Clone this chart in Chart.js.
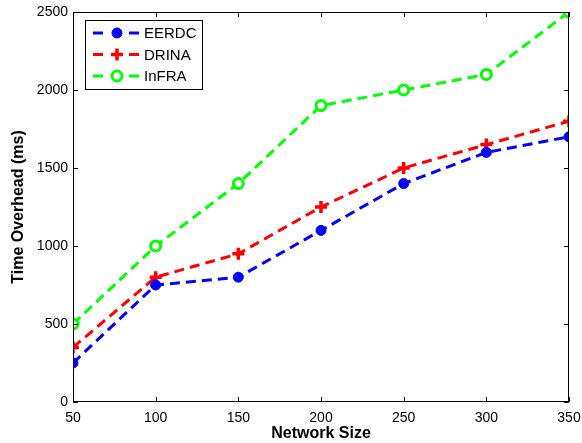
<!DOCTYPE html>
<html>
<head>
<meta charset="utf-8">
<script src="https://cdn.jsdelivr.net/npm/chart.js@4/dist/chart.umd.min.js"></script>
<style>
  html, body { margin: 0; padding: 0; background: #fff; }
  #wrap { width: 582px; height: 443px; position: relative; }
</style>
</head>
<body>
<div id="wrap"><canvas id="myChart"></canvas></div>
<script>
const networkSizes = [50, 100, 150, 200, 250, 300, 350];

const eerdc = [250, 750, 800, 1100, 1400, 1600, 1700];
const drina = [350, 800, 950, 1250, 1500, 1650, 1800];
const infra = [500, 1000, 1400, 1900, 2000, 2100, 2500];

const xTicks = [50, 100, 150, 200, 250, 300, 350];
const yTicks = [0, 500, 1000, 1500, 2000, 2500];

const FONT = 'Liberation Sans, Arial, Helvetica, sans-serif';

function points(values) {
  return networkSizes.map((x, i) => ({ x: x, y: values[i] }));
}

const data = {
  datasets: [{
      label: 'EERDC',
      data: points(eerdc),
      borderColor: '#0000ff',
      backgroundColor: '#0000ff',
      borderWidth: 3,
      borderDash: [10, 6],
      pointStyle: 'circle',
      pointRadius: 5,
      pointBorderWidth: 1,
      pointBackgroundColor: '#0000ff',
    },
    {
      label: 'DRINA',
      data: points(drina),
      borderColor: '#ff0000',
      backgroundColor: '#ff0000',
      borderWidth: 3,
      borderDash: [10, 6],
      pointStyle: 'cross',
      pointRadius: 6,
      pointBorderWidth: 3.5,
    },
    {
      label: 'InFRA',
      data: points(infra),
      borderColor: '#00ff00',
      backgroundColor: '#ffffff',
      borderWidth: 3,
      borderDash: [10, 6],
      pointStyle: 'circle',
      pointRadius: 5,
      pointBorderWidth: 3,
      pointBackgroundColor: '#ffffff',
    }
  ]
};

// box around the axes with inward ticks, like matlab
const framePlugin = {
  id: 'frame',
  afterDatasetsDraw(chart) {
    const { ctx, chartArea: a, scales } = chart;
    ctx.save();
    ctx.strokeStyle = '#000';
    ctx.lineWidth = 1;
    ctx.strokeRect(a.left + 0.5, a.top + 0.5, a.right - a.left - 1, a.bottom - a.top - 1);
    const t = 5;
    ctx.beginPath();
    xTicks.forEach(v => {
      const px = Math.round(scales.x.getPixelForValue(v)) + 0.5;
      ctx.moveTo(px, a.bottom); ctx.lineTo(px, a.bottom - t);
      ctx.moveTo(px, a.top); ctx.lineTo(px, a.top + t);
    });
    yTicks.forEach(v => {
      const py = Math.round(scales.y.getPixelForValue(v)) + 0.5;
      ctx.moveTo(a.left, py); ctx.lineTo(a.left + t, py);
      ctx.moveTo(a.right, py); ctx.lineTo(a.right - t, py);
    });
    ctx.stroke();
    ctx.restore();
  }
};

// legend drawn inside the plot, top-left
const legendPlugin = {
  id: 'boxLegend',
  afterDraw(chart) {
    const { ctx, chartArea: a } = chart;
    const x0 = a.left + 12, y0 = a.top + 8;
    const w = 117, h = 69;
    ctx.save();
    ctx.fillStyle = '#fff';
    ctx.fillRect(x0, y0, w, h);
    ctx.strokeStyle = '#000';
    ctx.lineWidth = 1;
    ctx.strokeRect(x0 + 0.5, y0 + 0.5, w, h);
    chart.data.datasets.forEach((ds, i) => {
      const y = y0 + 13 + i * 21.5;
      ctx.strokeStyle = ds.borderColor;
      ctx.lineWidth = 3;
      ctx.setLineDash([]);
      ctx.beginPath();
      ctx.moveTo(x0 + 8, y); ctx.lineTo(x0 + 18, y);
      ctx.moveTo(x0 + 44, y); ctx.lineTo(x0 + 54, y);
      ctx.stroke();
      ctx.fillStyle = ds.pointBackgroundColor || ds.borderColor;
      ctx.strokeStyle = ds.borderColor;
      ctx.lineWidth = ds.pointBorderWidth;
      Chart.helpers.drawPoint(ctx, {
        pointStyle: ds.pointStyle,
        radius: ds.pointRadius,
        borderWidth: ds.pointBorderWidth,
        rotation: 0
      }, x0 + 32, y);
      ctx.fillStyle = '#000';
      ctx.font = '15px ' + FONT;
      ctx.textAlign = 'left';
      ctx.textBaseline = 'middle';
      ctx.fillText(ds.label, x0 + 59, y + 1);
    });
    ctx.restore();
  }
};

const config = {
  type: 'line',
  data: data,
  plugins: [framePlugin, legendPlugin],
  options: {
    responsive: true,
    maintainAspectRatio: false,
    animation: false,
    layout: { padding: { top: 12, right: 13, left: 0, bottom: 0 } },
    plugins: {
      legend: { display: false },
      tooltip: { enabled: false }
    },
    scales: {
      x: {
        type: 'linear',
        min: 50,
        max: 350,
        afterBuildTicks: s => { s.ticks = xTicks.map(v => ({ value: v })); },
        afterFit: s => { s.height = 41; s.paddingRight = 0; s.paddingLeft = 0; },
        grid: { display: false, drawTicks: false },
        border: { display: false },
        ticks: {
          color: '#000', padding: 8, maxRotation: 0,
          font: { family: FONT, size: 14 },
          callback: v => String(v)
        },
        title: {
          display: true,
          text: 'Network Size',
          color: '#000',
          padding: { top: 0, bottom: 0 },
          font: { family: FONT, size: 16, weight: 'bold' }
        }
      },
      y: {
        min: 0,
        max: 2500,
        afterBuildTicks: s => { s.ticks = yTicks.map(v => ({ value: v })); },
        afterFit: s => { s.width = 73; s.paddingTop = 0; s.paddingBottom = 0; },
        grid: { display: false, drawTicks: false },
        border: { display: false },
        ticks: {
          color: '#000', padding: 5,
          font: { family: FONT, size: 14 },
          callback: v => String(v)
        },
        title: {
          display: true,
          text: 'Time Overhead (ms)',
          color: '#000',
          padding: { top: 9, bottom: 0 },
          font: { family: FONT, size: 16, weight: 'bold' }
        }
      }
    }
  }
};

const myChart = new Chart(document.getElementById('myChart'), config);
</script>
</body>
</html>
